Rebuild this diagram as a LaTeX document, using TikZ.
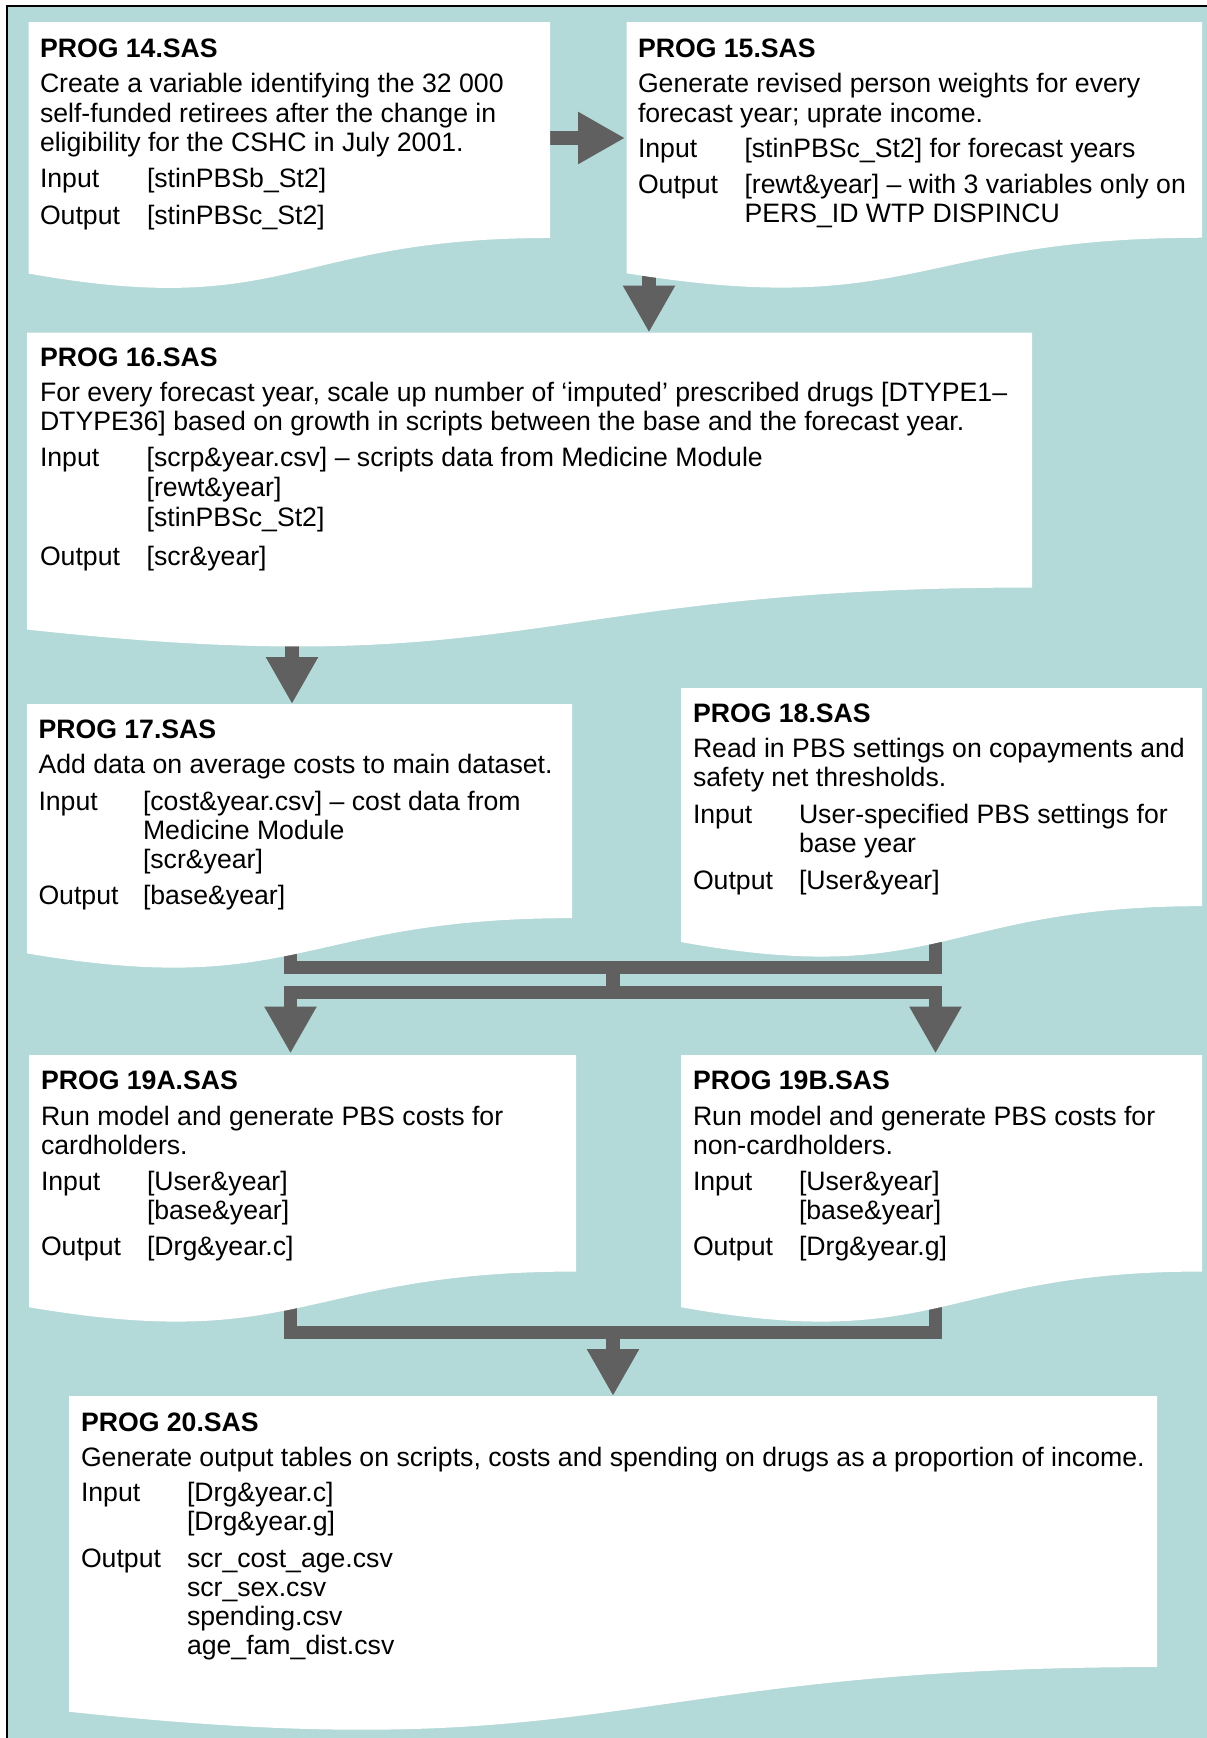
\documentclass[tikz,border=0pt]{standalone}
\usepackage{fontspec}
\setmainfont{Liberation Sans}
\usetikzlibrary{arrows.meta}
\definecolor{bg}{RGB}{179,217,216}
\definecolor{arr}{RGB}{96,96,96}
\tikzset{
 boxfill/.style={fill=white},
 txt/.style={anchor=base west, inner sep=0pt, outer sep=0pt, font=\fontsize{26.65}{29.5}\selectfont},
 ttl/.style={txt, font=\fontsize{26.65}{29.5}\selectfont\bfseries},
 bar/.style={draw=arr, line width=13.5pt, line join=miter},
 conn/.style={bar, -{Triangle[length=47pt,width=49pt]}},
}
\newcommand\docbox[4]{%
 \path[boxfill] (#1,#3) -- (#2,#3) -- (#2,{#3+0.802*#4}) .. controls ({(#1+#2)/2},{#3+0.802*#4}) and ({(#1+#2)/2},{#3+1.1075*#4}) .. (#1,{#3+0.934*#4}) -- cycle;}
\newcommand\tline[5][txt]{\node[#1] (#2) at (#3,#4) {#5};}
\begin{document}
\begin{tikzpicture}[x=1pt,y=-1pt]
\useasboundingbox (0,0) rectangle (1207,1738);
\fill[bg] (7,6) rectangle (1207,1738);
\draw[line width=2pt] (7,1738) -- (7,6) -- (1207,6);

% connectors
\coordinate (p14) at (550,138); \coordinate (p15) at (625,138);
\draw[conn] (p14) -- (p15);
\coordinate (q15) at (649,255); \coordinate (q16) at (649,332.5);
\draw[conn] (q15) -- (q16);
\coordinate (r16) at (292,615); \coordinate (r17) at (292,704);
\draw[conn] (r16) -- (r17);
\coordinate (s17) at (290.5,940); \coordinate (ul) at (290.5,967.5);
\coordinate (ur) at (935.5,967.5); \coordinate (s18) at (935.5,925);
\coordinate (uc) at (613,967.5); \coordinate (jc) at (613,992.5);
\coordinate (jl) at (290.5,992.5); \coordinate (jr) at (935.5,992.5);
\coordinate (t19a) at (290.5,1053.5); \coordinate (t19b) at (935.5,1053.5);
\draw[bar] (s17) -- (ul) -- (ur) -- (s18);
\draw[bar, line width=14pt] (uc) -- (jc);
\draw[conn] (jc) -- (jl) -- (t19a);
\draw[conn] (jc) -- (jr) -- (t19b);
\coordinate (u19a) at (290.5,1290); \coordinate (vl) at (290.5,1332.5);
\coordinate (vr) at (935.5,1332.5); \coordinate (u19b) at (935.5,1290);
\coordinate (vc) at (613,1332.5); \coordinate (t20) at (613,1396);
\draw[bar] (u19a) -- (vl) -- (vr) -- (u19b);
\draw[conn] (vc) -- (t20);

% boxes
\docbox{28.6}{550}{22}{269.3}
\docbox{626.5}{1202}{22}{269}
\docbox{27}{1032}{332.5}{318}
\docbox{27}{572}{704}{267}
\docbox{681}{1202}{688}{272}
\docbox{29}{576}{1055}{270}
\docbox{681}{1202}{1055}{270}
\docbox{69}{1157}{1396}{338}

% box 14
\tline[ttl]{a0}{40}{57}{PROG 14.SAS}
\tline{a1}{40}{92.5}{Create a variable identifying the 32 000}
\tline{a2}{40}{122}{self-funded retirees after the change in}
\tline{a3}{40}{151.5}{eligibility for the CSHC in July 2001.}
\tline{a4}{40}{187}{Input}
\tline{a5}{147}{187}{[stinPBSb\_St2]}
\tline{a6}{40}{224}{Output}
\tline{a7}{147}{224}{[stinPBSc\_St2]}

% box 15
\tline[ttl]{b0}{638}{57}{PROG 15.SAS}
\tline{b1}{638}{92.5}{Generate revised person weights for every}
\tline{b2}{638}{122}{forecast year; uprate income.}
\tline{b3}{638}{157}{Input}
\tline{b4}{744.5}{157}{[stinPBSc\_St2] for forecast years}
\tline{b5}{638}{193.5}{Output}
\tline{b6}{744.5}{193.5}{[rewt\&year] – with 3 variables only on}
\tline{b7}{744.5}{222}{PERS\_ID WTP DISPINCU}

% box 16
\tline[ttl]{c0}{40}{366.7}{PROG 16.SAS}
\tline{c1}{40}{401.7}{For every forecast year, scale up number of ‘imputed’ prescribed drugs [DTYPE1–}
\tline{c2}{40}{430.5}{DTYPE36] based on growth in scripts between the base and the forecast year.}
\tline{c3}{40}{466.7}{Input}
\tline{c4}{146.7}{466.7}{[scrp\&year.csv] – scripts data from Medicine Module}
\tline{c5}{146.7}{496.7}{[rewt\&year]}
\tline{c6}{146.7}{526.7}{[stinPBSc\_St2]}
\tline{c7}{40}{565}{Output}
\tline{c8}{146.7}{565}{[scr\&year]}

% box 17
\tline[ttl]{d0}{38.5}{738.5}{PROG 17.SAS}
\tline{d1}{38.5}{773.5}{Add data on average costs to main dataset.}
\tline{d2}{38.5}{810}{Input}
\tline{d3}{143}{810}{[cost\&year.csv] – cost data from}
\tline{d4}{143}{839}{Medicine Module}
\tline{d5}{143}{868.5}{[scr\&year]}
\tline{d6}{38.5}{904.5}{Output}
\tline{d7}{143}{904.5}{[base\&year]}

% box 18
\tline[ttl]{e0}{693}{722.5}{PROG 18.SAS}
\tline{e1}{693}{757.5}{Read in PBS settings on copayments and}
\tline{e2}{693}{786.5}{safety net thresholds.}
\tline{e3}{693}{823}{Input}
\tline{e4}{799}{823}{User-specified PBS settings for}
\tline{e5}{799}{852.5}{base year}
\tline{e6}{693}{889}{Output}
\tline{e7}{799}{889}{[User\&year]}

% box 19A
\tline[ttl]{f0}{41}{1089.5}{PROG 19A.SAS}
\tline{f1}{41}{1125}{Run model and generate PBS costs for}
\tline{f2}{41}{1154}{cardholders.}
\tline{f3}{41}{1190.5}{Input}
\tline{f4}{147}{1190.5}{[User\&year]}
\tline{f5}{147}{1219.5}{[base\&year]}
\tline{f6}{41}{1255}{Output}
\tline{f7}{147}{1255}{[Drg\&year.c]}

% box 19B
\tline[ttl]{g0}{693}{1089.5}{PROG 19B.SAS}
\tline{g1}{693}{1125}{Run model and generate PBS costs for}
\tline{g2}{693}{1154}{non-cardholders.}
\tline{g3}{693}{1190.5}{Input}
\tline{g4}{799}{1190.5}{[User\&year]}
\tline{g5}{799}{1219.5}{[base\&year]}
\tline{g6}{693}{1255}{Output}
\tline{g7}{799}{1255}{[Drg\&year.g]}

% box 20
\tline[ttl]{h0}{81}{1431.5}{PROG 20.SAS}
\tline{h1}{81}{1466.5}{Generate output tables on scripts, costs and spending on drugs as a proportion of income.}
\tline{h2}{81}{1501.5}{Input}
\tline{h3}{187}{1501.5}{[Drg\&year.c]}
\tline{h4}{187}{1530.5}{[Drg\&year.g]}
\tline{h5}{81}{1567}{Output}
\tline{h6}{187}{1567}{scr\_cost\_age.csv}
\tline{h7}{187}{1596}{scr\_sex.csv}
\tline{h8}{187}{1625}{spending.csv}
\tline{h9}{187}{1654}{age\_fam\_dist.csv}
\end{tikzpicture}
\end{document}
